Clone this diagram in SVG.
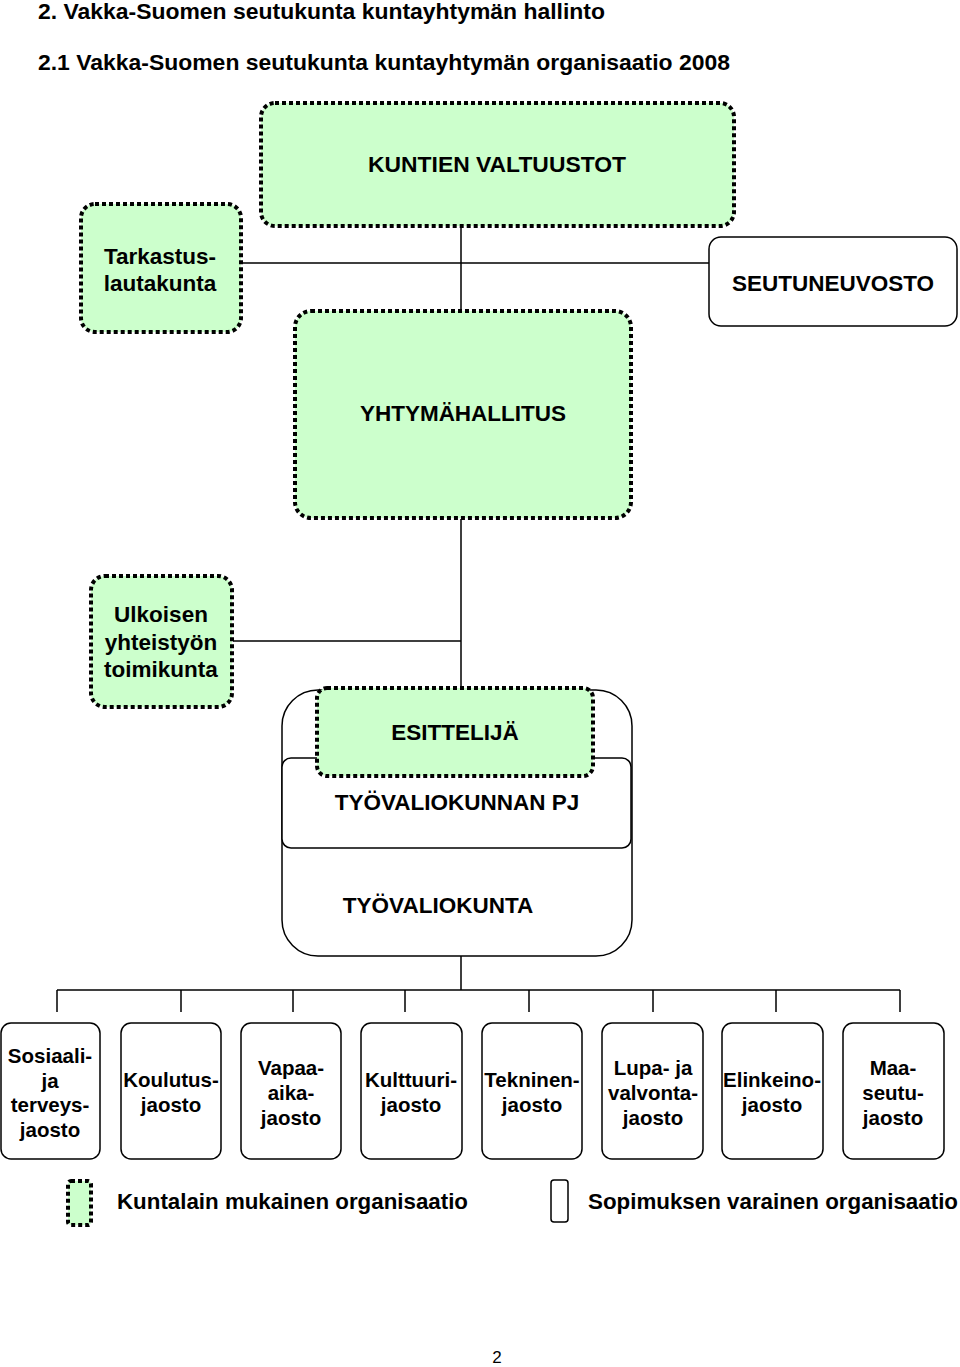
<svg xmlns="http://www.w3.org/2000/svg" width="960" height="1367" viewBox="0 0 960 1367">
<style>
.bg{fill:#ffffff}
.kl{fill:#ccffcc;stroke:#000;stroke-width:4;stroke-dasharray:4 3}
.sv{fill:#ffffff;stroke:#000;stroke-width:1.5}
.ln{fill:none;stroke:#000;stroke-width:1.5}
.t{font-family:"Liberation Sans",Arial,sans-serif;font-weight:bold;fill:#000}
.h{font-size:22px}
.m{font-size:20.5px;text-anchor:middle}
.b{font-size:22.5px;text-anchor:middle}
</style>
<rect class="bg" x="0" y="0" width="960" height="1367"/>
<text class="t h" x="38" y="19" textLength="567" lengthAdjust="spacingAndGlyphs">2. Vakka-Suomen seutukunta kuntayhtymän hallinto</text>
<text class="t h" x="38" y="70" textLength="692" lengthAdjust="spacingAndGlyphs">2.1 Vakka-Suomen seutukunta kuntayhtymän organisaatio 2008</text>
<g id="connectors">
<path class="ln" d="M461 227V310M242 263H709M461 519V690M233 641H461M461 956V990M57 990H900M57 990V1012M181 990V1012M293 990V1012M405 990V1012M529 990V1012M653 990V1012M776 990V1012M900 990V1012"/>
</g>
<g id="kuntien-valtuustot">
<rect class="kl" x="261" y="103" width="473" height="123" rx="14"/>
<text class="t b" x="497" y="172" textLength="258" lengthAdjust="spacingAndGlyphs">KUNTIEN VALTUUSTOT</text>
</g>
<g id="tarkastuslautakunta">
<rect class="kl" x="81" y="204" width="160" height="128" rx="14"/>
<text class="t b" x="160" y="264">Tarkastus-</text>
<text class="t b" x="160" y="291">lautakunta</text>
</g>
<g id="seutuneuvosto">
<rect class="sv" x="709" y="237" width="248" height="89" rx="12"/>
<text class="t b" x="833" y="291">SEUTUNEUVOSTO</text>
</g>
<g id="yhtymahallitus">
<rect class="kl" x="295" y="311" width="336" height="207" rx="16"/>
<text class="t b" x="463" y="421">YHTYMÄHALLITUS</text>
</g>
<g id="ulkoisen-yhteistyon-toimikunta">
<rect class="kl" x="91" y="576" width="141" height="131" rx="14"/>
<text class="t b" x="161" y="622">Ulkoisen</text>
<text class="t b" x="161" y="650">yhteistyön</text>
<text class="t b" x="161" y="677">toimikunta</text>
</g>
<g id="tyovaliokunta">
<rect class="sv" x="282" y="690" width="350" height="266" rx="36"/>
<text class="t b" x="438" y="913">TYÖVALIOKUNTA</text>
</g>
<g id="tyovaliokunnan-pj">
<rect class="sv" x="282" y="758" width="349" height="90" rx="9"/>
<text class="t b" x="457" y="810">TYÖVALIOKUNNAN PJ</text>
</g>
<g id="esittelija">
<rect class="kl" x="317" y="688" width="276" height="88" rx="10"/>
<text class="t b" x="455" y="740">ESITTELIJÄ</text>
</g>
<g id="sosiaali-ja-terveysjaosto">
<rect class="sv" x="1" y="1023" width="99" height="136" rx="10"/>
<text class="t m" x="50" y="1063">Sosiaali-</text>
<text class="t m" x="50" y="1088">ja</text>
<text class="t m" x="50" y="1112">terveys-</text>
<text class="t m" x="50" y="1137">jaosto</text>
</g>
<g id="koulutusjaosto">
<rect class="sv" x="121" y="1023" width="100" height="136" rx="10"/>
<text class="t m" x="171" y="1087">Koulutus-</text>
<text class="t m" x="171" y="1112">jaosto</text>
</g>
<g id="vapaa-aikajaosto">
<rect class="sv" x="241" y="1023" width="100" height="136" rx="10"/>
<text class="t m" x="291" y="1075">Vapaa-</text>
<text class="t m" x="291" y="1100">aika-</text>
<text class="t m" x="291" y="1125">jaosto</text>
</g>
<g id="kulttuurijaosto">
<rect class="sv" x="361" y="1023" width="101" height="136" rx="10"/>
<text class="t m" x="411" y="1087">Kulttuuri-</text>
<text class="t m" x="411" y="1112">jaosto</text>
</g>
<g id="tekninenjaosto">
<rect class="sv" x="482" y="1023" width="100" height="136" rx="10"/>
<text class="t m" x="532" y="1087">Tekninen-</text>
<text class="t m" x="532" y="1112">jaosto</text>
</g>
<g id="lupa-ja-valvontajaosto">
<rect class="sv" x="602" y="1023" width="101" height="136" rx="10"/>
<text class="t m" x="653" y="1075">Lupa- ja</text>
<text class="t m" x="653" y="1100">valvonta-</text>
<text class="t m" x="653" y="1125">jaosto</text>
</g>
<g id="elinkeinojaosto">
<rect class="sv" x="722" y="1023" width="101" height="136" rx="10"/>
<text class="t m" x="772" y="1087">Elinkeino-</text>
<text class="t m" x="772" y="1112">jaosto</text>
</g>
<g id="maaseutujaosto">
<rect class="sv" x="843" y="1023" width="101" height="136" rx="10"/>
<text class="t m" x="893" y="1075">Maa-</text>
<text class="t m" x="893" y="1100">seutu-</text>
<text class="t m" x="893" y="1125">jaosto</text>
</g>
<g id="legend">
<rect class="kl" x="68" y="1181" width="23" height="44" rx="3"/>
<text class="t h" x="117" y="1209" textLength="351" lengthAdjust="spacingAndGlyphs">Kuntalain mukainen organisaatio</text>
<rect class="sv" x="551" y="1180" width="17" height="42" rx="3"/>
<text class="t h" x="588" y="1209" textLength="370" lengthAdjust="spacingAndGlyphs">Sopimuksen varainen organisaatio</text>
</g>
<text x="497" y="1363" style="font-family:'Liberation Sans',Arial,sans-serif;font-size:17px;text-anchor:middle">2</text>
</svg>
